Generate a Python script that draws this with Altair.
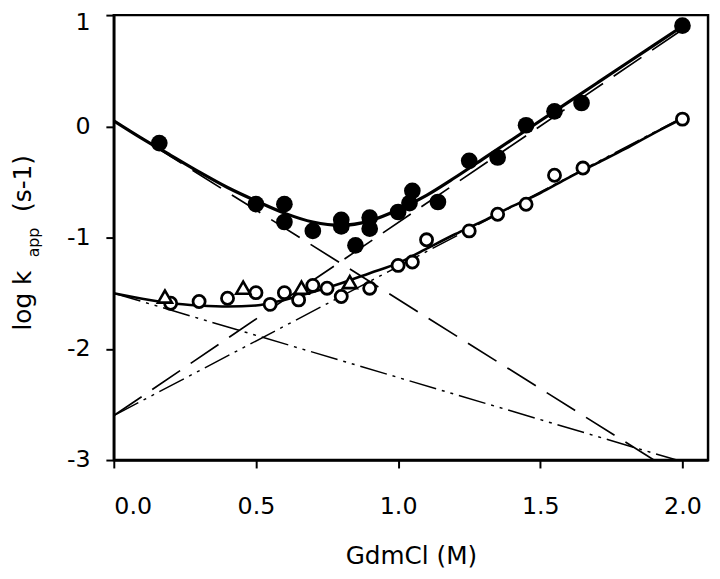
import altair as alt
import pandas as pd

# ---- data ----
filled_x = [0.16, 0.50, 0.60, 0.60, 0.70, 0.80, 0.80, 0.85, 0.90, 0.90,
            1.00, 1.05, 1.04, 1.14, 1.25, 1.35, 1.45, 1.55, 1.645, 2.00]
filled_y = [-0.15, -0.70, -0.70, -0.86, -0.94, -0.84, -0.90, -1.07, -0.82, -0.92,
            -0.77, -0.58, -0.69, -0.68, -0.31, -0.28, 0.01, 0.135, 0.21, 0.905]

open_x = [0.20, 0.30, 0.40, 0.50, 0.55, 0.60, 0.65, 0.70, 0.75, 0.80,
          0.90, 1.00, 1.05, 1.10, 1.25, 1.35, 1.45, 1.55, 1.65, 2.00]
open_y = [-1.59, -1.575, -1.545, -1.495, -1.60, -1.495, -1.56, -1.43, -1.455, -1.53,
          -1.455, -1.25, -1.22, -1.02, -0.94, -0.79, -0.70, -0.44, -0.375, 0.065]

tri_x = [0.18, 0.455, 0.66, 0.83]
tri_y = [-1.53, -1.45, -1.45, -1.40]

fit_x = [0.0, 0.1, 0.2, 0.3, 0.4, 0.5, 0.6, 0.7, 0.8, 0.9, 1.0,
         1.1, 1.2, 1.3, 1.4, 1.5, 1.6, 1.7, 1.8, 1.9, 2.0]
fit_upper_y = [0.05, -0.11, -0.26, -0.41, -0.55, -0.67, -0.78, -0.86, -0.89, -0.85, -0.75,
               -0.62, -0.46, -0.29, -0.12, 0.05, 0.22, 0.39, 0.56, 0.73, 0.90]
fit_lower_y = [-1.50, -1.55, -1.59, -1.61, -1.62, -1.61, -1.56, -1.49, -1.41, -1.32, -1.23,
               -1.10, -0.97, -0.85, -0.72, -0.60, -0.46, -0.33, -0.20, -0.06, 0.07]

dash_refold_x = [0.0, 1.90]
dash_refold_y = [0.05, -3.0]
dash_unfold_x = [0.0, 2.0]
dash_unfold_y = [-2.6, 0.87]
dd_refold_x = [0.0, 1.98]
dd_refold_y = [-1.50, -3.0]
dd_unfold_x = [0.0, 2.0]
dd_unfold_y = [-2.6, 0.08]

x_ticks = [0.0, 0.5, 1.0, 1.5, 2.0]
y_ticks = [-3, -2, -1, 0, 1]

FONT = "DejaVu Sans"

xs = alt.Scale(domain=[0, 2.09], nice=False, zero=False)
ys = alt.Scale(domain=[-3, 1], nice=False, zero=False)

X = alt.X("x:Q", scale=xs,
          axis=alt.Axis(values=x_ticks, format=".1f", title="GdmCl (M)",
                        labelPadding=27, titlePadding=26))
Y = alt.Y("y:Q", scale=ys,
          axis=alt.Axis(values=y_ticks, title=None, labelPadding=16,
                        labelExpr="toString(datum.value)",
                        labelOffset=alt.condition("datum.value == 1",
                                                  alt.value(8), alt.value(0))))


def line_layer(xv, yv, width, dash=None, interp="linear"):
    df = pd.DataFrame({"x": xv, "y": yv})
    kw = dict(color="black", strokeWidth=width, interpolate=interp, clip=True)
    if dash is not None:
        kw["strokeDash"] = dash
    return alt.Chart(df).mark_line(**kw).encode(x=X, y=Y)


long_dash = [34, 13]
dash_dot = [28, 6, 3, 6, 3, 6]

l_dash1 = line_layer(dash_refold_x, dash_refold_y, 1.7, long_dash)
l_dash2 = line_layer(dash_unfold_x, dash_unfold_y, 1.7, long_dash)
l_dd1 = line_layer(dd_refold_x, dd_refold_y, 1.5, dash_dot)
l_dd2 = line_layer(dd_unfold_x, dd_unfold_y, 1.5, dash_dot)
l_up = line_layer(fit_x, fit_upper_y, 3.2, None, "monotone")
l_lo = line_layer(fit_x, fit_lower_y, 2.6, None, "monotone")

p_open = alt.Chart(pd.DataFrame({"x": open_x, "y": open_y})).mark_point(
    shape="circle", filled=True, fill="white", stroke="black", strokeWidth=2.8,
    size=150, opacity=1).encode(x=X, y=Y)
p_tri = alt.Chart(pd.DataFrame({"x": tri_x, "y": tri_y})).mark_point(
    shape="triangle-up", filled=True, fill="white", stroke="black", strokeWidth=2.6,
    size=200, opacity=1).encode(x=X, y=Y)
p_fill = alt.Chart(pd.DataFrame({"x": filled_x, "y": filled_y})).mark_point(
    shape="circle", filled=True, fill="black", stroke="black", strokeWidth=0,
    size=285, opacity=1).encode(x=X, y=Y)

# y-axis title pieces: "log k", subscript "app", "(s-1)"
ttl_main = alt.Chart(pd.DataFrame({"t": ["log k"]})).mark_text(
    angle=270, align="left", baseline="alphabetic", font=FONT, fontSize=25,
    color="black").encode(text="t:N", x=alt.value(-84), y=alt.value(319))
ttl_sub = alt.Chart(pd.DataFrame({"t": ["app"]})).mark_text(
    angle=270, align="left", baseline="alphabetic", font=FONT, fontSize=16,
    color="black").encode(text="t:N", x=alt.value(-76), y=alt.value(245))
ttl_unit = alt.Chart(pd.DataFrame({"t": ["(s-1)"]})).mark_text(
    angle=270, align="left", baseline="alphabetic", font=FONT, fontSize=25,
    color="black").encode(text="t:N", x=alt.value(-84), y=alt.value(199))

chart = alt.layer(
    l_dash1, l_dash2, l_dd1, l_dd2, l_up, l_lo, p_open, p_tri, p_fill,
    ttl_main, ttl_sub, ttl_unit
).properties(
    width=601, height=450,
    background="white",
    autosize=alt.AutoSizeParams(type="none"),
    padding={"left": 107, "top": 4, "right": 4, "bottom": 108},
).configure_view(
    stroke="black", strokeWidth=2.5
).configure_axis(
    grid=False, domainColor="black", domainWidth=2.5,
    tickColor="black", tickWidth=2, tickSize=8,
    labelFont=FONT, labelFontSize=24, labelColor="black",
    titleFont=FONT, titleFontSize=25, titleColor="black", titleFontWeight="normal",
)

chart.save("out.html", embed_options={"renderer": "svg", "actions": False})
